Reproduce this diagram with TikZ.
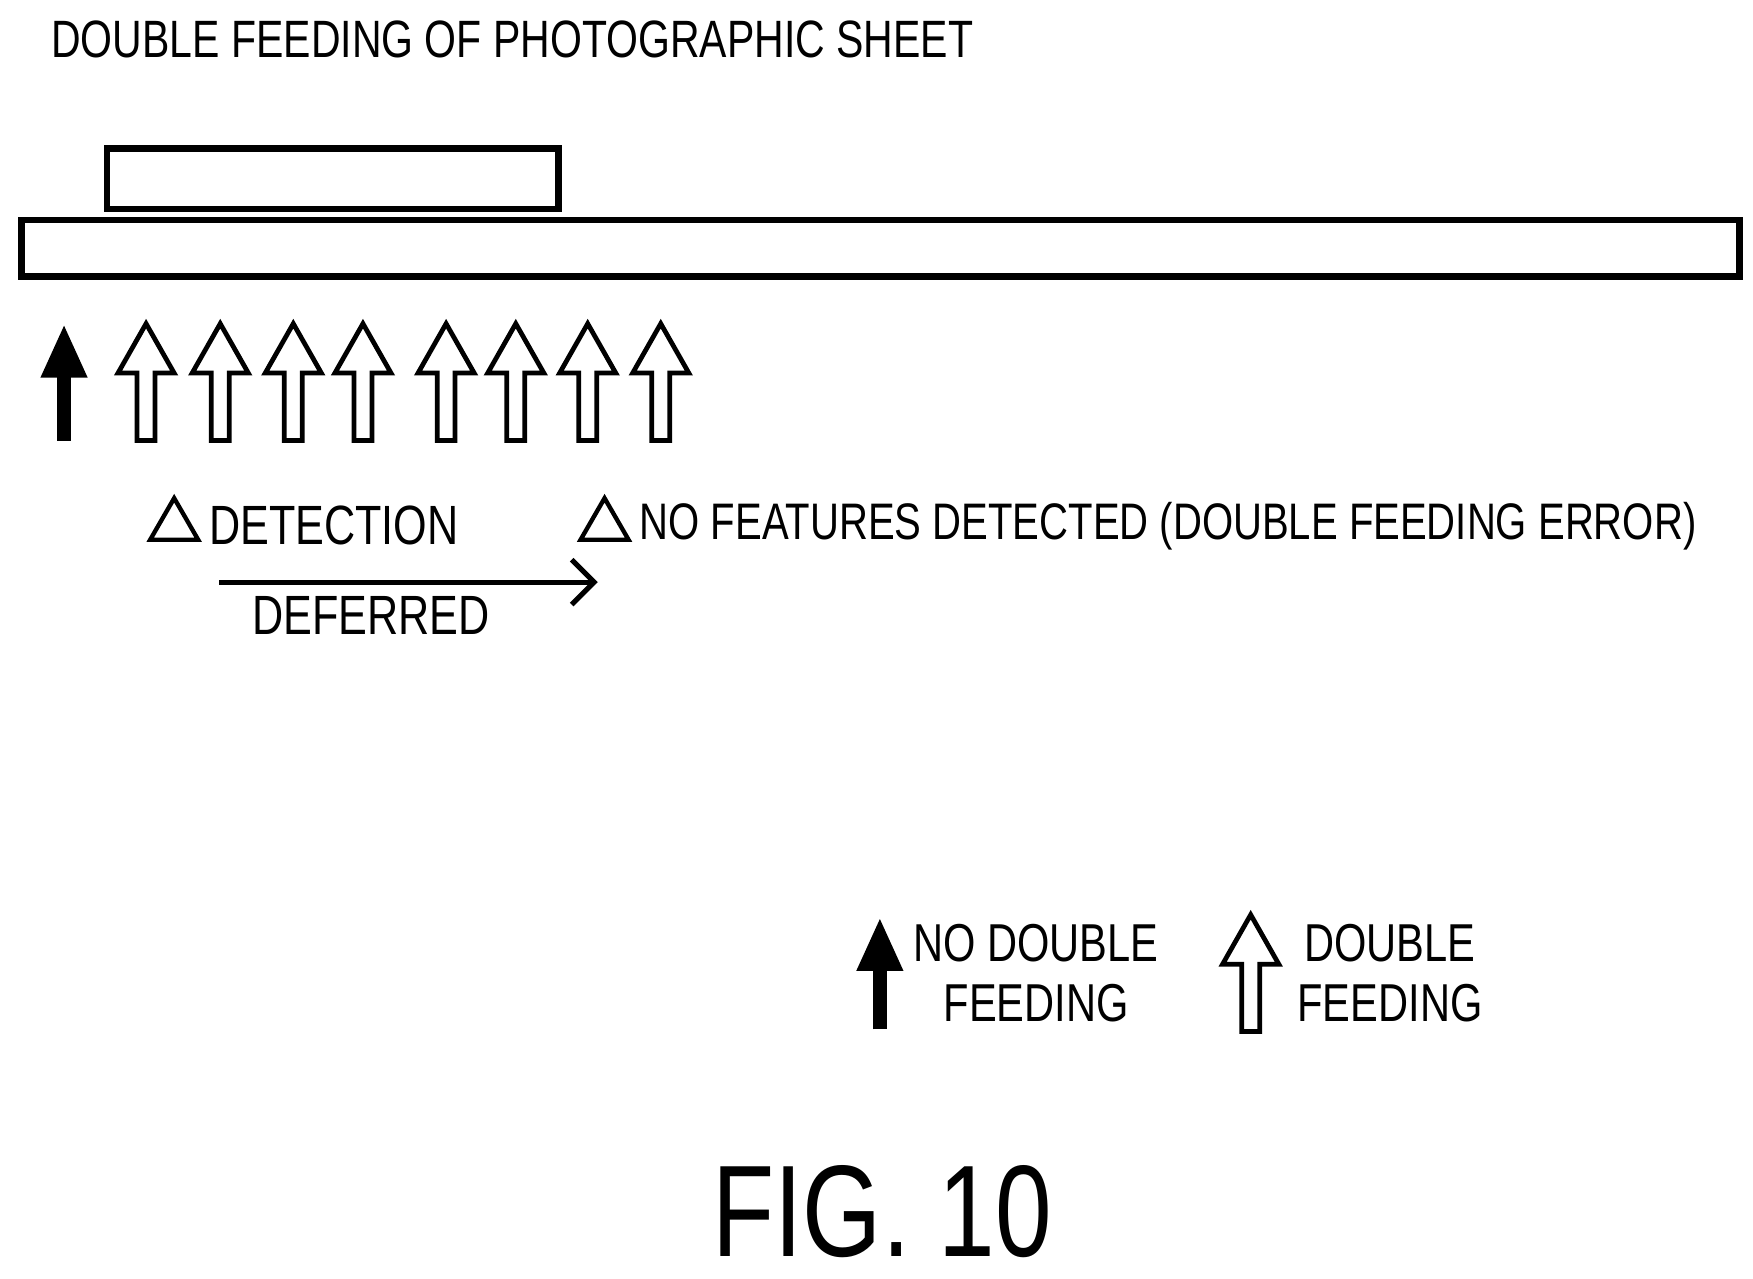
\documentclass[tikz,border=0pt]{standalone}
\usepackage{fontspec}
\setmainfont{Liberation Sans}[FakeStretch=0.78]
\usetikzlibrary{arrows.meta,positioning,shapes.geometric}

\tikzset{
  sheet/.style={draw, line width=1.6pt},
  label/.style={font=\fontsize{14}{16}\selectfont, inner sep=0pt},
  warn/.style={draw, line width=1.1pt, isosceles triangle, isosceles triangle apex angle=60, shape border rotate=90, minimum height=0.37cm, inner sep=0pt},
  hollowarrow/.pic={\draw[line width=1.2pt, fill=white] (-8,0) -- (-8,-60) -- (-25,-60) -- (0,-104) -- (25,-60) -- (8,-60) -- (8,0) -- cycle;},
  solidarrow/.style={-{Triangle[length=0.48cm,width=0.38cm]}, line width=3.6pt}
}

\begin{document}
\begin{tikzpicture}[x=0.01cm, y=-0.01cm]
\useasboundingbox (0,0) rectangle (1560,1138);

\node[font=\fontsize{13.3}{15}\selectfont, anchor=west, inner sep=0pt] (title) at (45,35) {DOUBLE FEEDING OF PHOTOGRAPHIC SHEET};

% sheets
\draw[sheet] (95,132) rectangle (497,186);
\draw[sheet] (19,196) rectangle (1548,246);

% sensor arrows
\coordinate (s0) at (57,392);
\coordinate (s0top) at (57,288);
\draw[solidarrow] (s0) -- (s0top);
\foreach \x in {130,196,261,323,397,459,523,588}
  \pic at (\x,392) {hollowarrow};

% detection labels
\node[warn] (t1) at (155,468) {};
\node[label, anchor=west, right=0.14cm of t1.east] (det) {DETECTION};
\node[warn] (t2) at (538,468) {};
\node[label, font=\fontsize{13}{15}\selectfont, anchor=west, right=0.14cm of t2.east] (err) {NO FEATURES DETECTED (DOUBLE FEEDING ERROR)};
\coordinate (d0) at (195,518);
\coordinate (d1) at (532,518);
\draw[-{Straight Barb[length=0.2cm]}, line width=1.3pt] (d0) -- (d1);
\node[label] (def) at (330,548) {DEFERRED};

% legend
\coordinate (l0) at (783,916);
\coordinate (l1) at (783,816);
\draw[solidarrow] (l0) -- (l1);
\node[label, align=center, font=\fontsize{13.5}{15}\selectfont] (lno) at (922,866) {NO DOUBLE\\FEEDING};
\pic at (1113,918) {hollowarrow};
\node[label, align=center, font=\fontsize{13.5}{15}\selectfont] (lyes) at (1237,866) {DOUBLE\\FEEDING};

\node[font=\fontsize{33}{35}\selectfont, inner sep=0pt] (fig) at (785,1078) {FIG. 10};
\end{tikzpicture}
\end{document}
